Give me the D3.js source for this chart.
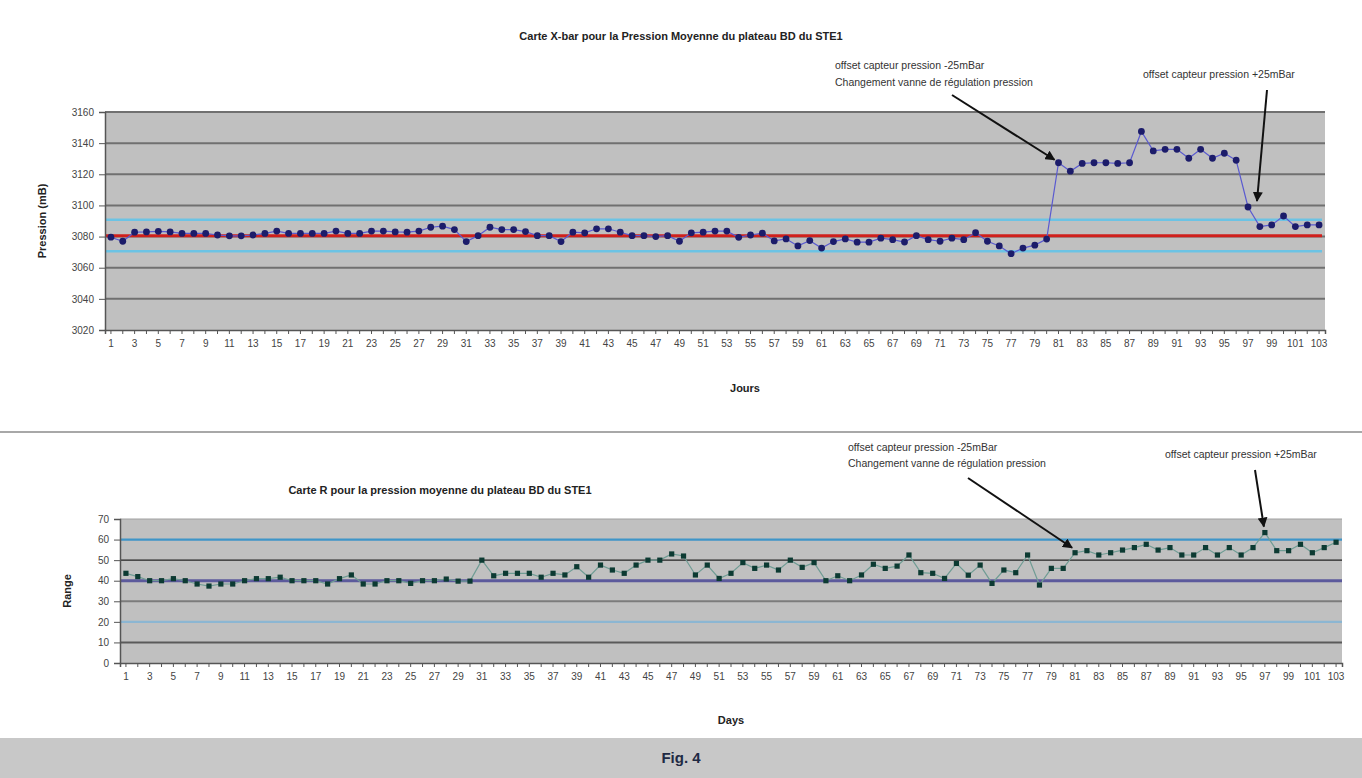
<!DOCTYPE html>
<html lang="fr">
<head>
<meta charset="UTF-8">
<title>Cartes X-bar et R</title>
<script src="https://d3js.org/d3.v7.min.js"></script>
<style>
  body { margin: 0; background: #fff; }
  svg { display: block; font-family: "Liberation Sans", Arial, sans-serif; }
  .tick text { fill: #444; font-size: 10px; }
  .ttl { font-weight: bold; font-size: 11px; fill: #222; }
  .note { font-size: 10.5px; fill: #333; }
</style>
</head>
<body>
<div id="chart"></div>
<script>
// days 1..103
const days = d3.range(1, 104);

// X-bar : pression moyenne (mB)
const pression = [
  3079.6, 3077, 3082.8, 3083, 3083.4, 3083, 3082, 3082, 3082, 3081,
  3080.5, 3080.5, 3081, 3082, 3083.5, 3082, 3082, 3082, 3082, 3083.5,
  3082, 3082, 3083.5, 3083.5, 3083, 3082.8, 3083.5, 3086, 3086.7, 3084.5,
  3076.8, 3080.6, 3086, 3084.5, 3084.5, 3083.2, 3080.6, 3080.6, 3076.8, 3082.8,
  3082.4, 3085, 3085, 3082.8, 3080.6, 3080.6, 3080, 3080.6, 3077, 3082.4,
  3082.8, 3083.5, 3083.5, 3079.5, 3081, 3082.2, 3077.2, 3078.5, 3074, 3077.4,
  3072.6, 3076.8, 3078.5, 3076.4, 3076.4, 3079, 3078, 3076.5, 3080.6, 3078,
  3077, 3079, 3078, 3082.5, 3077, 3074, 3069, 3072.6, 3074.5, 3078.4,
  3127.4, 3122, 3127, 3127.4, 3127.4, 3127, 3127.4, 3147.5, 3135, 3136,
  3136, 3130.3, 3136, 3130.3, 3133.5, 3129, 3099, 3086.4, 3087.5, 3093.2,
  3086.4, 3087.5, 3087.5
];
const xbarCenter = 3080.5;
const xbarUCL = 3090.8;
const xbarLCL = 3070.6;
const xbarTicks = [3020, 3040, 3060, 3080, 3100, 3120, 3140, 3160];

// R : étendue
const range = [
  43.6, 42, 40, 40, 41, 40, 38.4, 37.4, 38.4, 38.4,
  40, 41, 41, 41.7, 40, 40, 40, 38.4, 41, 42.8,
  38.4, 38.4, 40, 40, 38.7, 40, 40, 40.8, 39.8, 39.8,
  50, 42.4, 43.6, 43.6, 43.6, 41.7, 43.6, 42.8, 46.8, 41.7,
  47.6, 45.2, 43.6, 47.6, 50, 50, 53, 52, 42.8, 47.6,
  41.1, 43.6, 48.8, 46, 47.6, 45.2, 50, 46.5, 48.8, 40,
  42.4, 40, 42.8, 48, 46, 47.1, 52.5, 43.9, 43.6, 41.1,
  48.4, 42.7, 47.6, 38.7, 45.2, 43.9, 52.5, 37.9, 46, 46,
  53.6, 54.6, 52.5, 53.6, 54.9, 56.1, 57.7, 54.9, 56.1, 52.5,
  52.5, 56.1, 52.5, 56.1, 52.5, 56.1, 63.4, 54.6, 54.6, 57.7,
  53.6, 56.1, 58.7
];
const rCenter = 40;
const rUCL = 60;
const rLCL = 20;
const rTicks = [0, 10, 20, 30, 40, 50, 60, 70];

const W = 1362, H = 778;
const svg = d3.select("#chart").append("svg").attr("width", W).attr("height", H);

svg.append("defs").append("marker")
  .attr("id", "arr").attr("viewBox", "0 0 10 10").attr("refX", 9).attr("refY", 5)
  .attr("markerWidth", 5).attr("markerHeight", 5).attr("orient", "auto")
  .append("path").attr("d", "M0,0 L10,5 L0,10 z").attr("fill", "#111");

function xAxisLabels(g) {
  g.selectAll(".tick text").attr("dy", "0.9em").attr("fill", "#444");
  g.select(".domain").attr("stroke", "#555").attr("stroke-width", 1.5);
  g.selectAll(".tick line").attr("stroke", "#555");
}

// ---------- X-bar chart ----------
const x1 = d3.scaleBand().domain(days).range([105, 1325]).padding(0);
const y1 = d3.scaleLinear().domain([3020, 3160]).range([330, 112]);
const cx1 = d => x1(d) + x1.bandwidth() / 2;

svg.append("rect").attr("x", 105).attr("y", y1(3160))
  .attr("width", 1220).attr("height", y1(3020) - y1(3160)).attr("fill", "#c0c0c0");

svg.append("g").selectAll("line")
  .data(xbarTicks.filter(t => t > 3020)).enter().append("line")
  .attr("x1", 105).attr("x2", 1325)
  .attr("y1", d => y1(d)).attr("y2", d => y1(d))
  .attr("stroke", "#707070").attr("stroke-width", 2);

[xbarUCL, xbarLCL].forEach(v => {
  svg.append("line").attr("x1", 105).attr("x2", 1322)
    .attr("y1", y1(v)).attr("y2", y1(v))
    .attr("stroke", "#6cc3e4").attr("stroke-width", 2.5);
});
svg.append("line").attr("x1", 105).attr("x2", 1322)
  .attr("y1", y1(xbarCenter)).attr("y2", y1(xbarCenter))
  .attr("stroke", "#d0201c").attr("stroke-width", 3);

svg.append("g").attr("transform", "translate(105,0)")
  .call(d3.axisLeft(y1).tickValues(xbarTicks).tickSize(6).tickPadding(5).tickFormat(d3.format("d")))
  .call(g => {
    g.select(".domain").attr("stroke", "#555").attr("stroke-width", 1.5);
    g.selectAll(".tick line").attr("stroke", "#555");
  });

svg.append("g").attr("transform", `translate(0,${y1(3020)})`)
  .call(d3.axisBottom(x1).tickSize(4).tickPadding(4)
    .tickFormat(d => d % 2 === 1 ? d : ""))
  .call(xAxisLabels);

svg.append("path").datum(days)
  .attr("fill", "none").attr("stroke", "#5a5ad0").attr("stroke-width", 1.2)
  .attr("d", d3.line().x(d => cx1(d)).y((d, i) => y1(pression[i])));

svg.append("g").selectAll("circle").data(days).enter().append("circle")
  .attr("cx", d => cx1(d)).attr("cy", (d, i) => y1(pression[i]))
  .attr("r", 3.4).attr("fill", "#1c1c6a");

svg.append("text").attr("class", "ttl").attr("x", 681).attr("y", 40)
  .attr("text-anchor", "middle").text("Carte X-bar pour la Pression Moyenne du plateau BD du STE1");
svg.append("text").attr("class", "ttl").attr("x", 745).attr("y", 392)
  .attr("text-anchor", "middle").text("Jours");
svg.append("text").attr("class", "ttl")
  .attr("transform", `translate(46,${(y1(3020) + y1(3160)) / 2}) rotate(-90)`)
  .attr("text-anchor", "middle").text("Pression (mB)");

svg.append("text").attr("class", "note").attr("x", 835).attr("y", 69).text("offset capteur pression -25mBar");
svg.append("text").attr("class", "note").attr("x", 835).attr("y", 86).text("Changement vanne de régulation pression");
svg.append("text").attr("class", "note").attr("x", 1143).attr("y", 78).text("offset capteur pression +25mBar");

svg.append("line").attr("x1", 952).attr("y1", 95)
  .attr("x2", cx1(81) - 4).attr("y2", y1(pression[80]) - 3)
  .attr("stroke", "#111").attr("stroke-width", 2).attr("marker-end", "url(#arr)");
svg.append("line").attr("x1", 1267).attr("y1", 90)
  .attr("x2", cx1(97) + 9).attr("y2", y1(pression[96]) - 6)
  .attr("stroke", "#111").attr("stroke-width", 2).attr("marker-end", "url(#arr)");

// separator
svg.append("line").attr("x1", 0).attr("x2", W).attr("y1", 432).attr("y2", 432)
  .attr("stroke", "#a8a8a8").attr("stroke-width", 2);

// ---------- R chart ----------
const x2 = d3.scaleBand().domain(days).range([120, 1342]).padding(0);
const y2 = d3.scaleLinear().domain([0, 70]).range([663, 519]);
const cx2 = d => x2(d) + x2.bandwidth() / 2;

svg.append("rect").attr("x", 120).attr("y", y2(70))
  .attr("width", 1222).attr("height", y2(0) - y2(70)).attr("fill", "#c0c0c0");

const rGrid = [
  { v: 10, c: "#5a5a5a", w: 2 },
  { v: 30, c: "#7c7c7c", w: 2 },
  { v: 50, c: "#222222", w: 1.3 },
  { v: 70, c: "#a0a0a0", w: 1 }
];
svg.append("g").selectAll("line").data(rGrid).enter().append("line")
  .attr("x1", 120).attr("x2", 1342)
  .attr("y1", d => y2(d.v)).attr("y2", d => y2(d.v))
  .attr("stroke", d => d.c).attr("stroke-width", d => d.w);

svg.append("line").attr("x1", 120).attr("x2", 1342)
  .attr("y1", y2(rUCL)).attr("y2", y2(rUCL)).attr("stroke", "#3f95c8").attr("stroke-width", 2.2);
svg.append("line").attr("x1", 120).attr("x2", 1342)
  .attr("y1", y2(rLCL)).attr("y2", y2(rLCL)).attr("stroke", "#8cb6d2").attr("stroke-width", 2.2);
svg.append("line").attr("x1", 120).attr("x2", 1342)
  .attr("y1", y2(rCenter)).attr("y2", y2(rCenter)).attr("stroke", "#5c5a9c").attr("stroke-width", 3);

svg.append("g").attr("transform", "translate(120,0)")
  .call(d3.axisLeft(y2).tickValues(rTicks).tickSize(6).tickPadding(5))
  .call(g => {
    g.select(".domain").attr("stroke", "#555").attr("stroke-width", 1.5);
    g.selectAll(".tick line").attr("stroke", "#555");
  });

svg.append("g").attr("transform", `translate(0,${y2(0)})`)
  .call(d3.axisBottom(x2).tickSize(4).tickPadding(4)
    .tickFormat(d => d % 2 === 1 ? d : ""))
  .call(xAxisLabels);

svg.append("path").datum(days)
  .attr("fill", "none").attr("stroke", "#6f9c94").attr("stroke-width", 1.2)
  .attr("d", d3.line().x(d => cx2(d)).y((d, i) => y2(range[i])));

svg.append("g").selectAll("rect").data(days).enter().append("rect")
  .attr("x", d => cx2(d) - 2.6).attr("y", (d, i) => y2(range[i]) - 2.6)
  .attr("width", 5.2).attr("height", 5.2).attr("fill", "#0c3a32");

svg.append("text").attr("class", "ttl").attr("x", 440).attr("y", 494)
  .attr("text-anchor", "middle").text("Carte R pour la pression moyenne du plateau BD du STE1");
svg.append("text").attr("class", "ttl").attr("x", 731).attr("y", 724)
  .attr("text-anchor", "middle").attr("font-size", "10px").text("Days");
svg.append("text").attr("class", "ttl").attr("font-size", "10px")
  .attr("transform", `translate(71,${(y2(0) + y2(70)) / 2}) rotate(-90)`)
  .attr("text-anchor", "middle").text("Range");

svg.append("text").attr("class", "note").attr("x", 848).attr("y", 451).text("offset capteur pression -25mBar");
svg.append("text").attr("class", "note").attr("x", 848).attr("y", 467).text("Changement vanne de régulation pression");
svg.append("text").attr("class", "note").attr("x", 1165).attr("y", 458).text("offset capteur pression +25mBar");

svg.append("line").attr("x1", 968).attr("y1", 478)
  .attr("x2", cx2(81) - 3).attr("y2", y2(range[80]) - 5)
  .attr("stroke", "#111").attr("stroke-width", 2).attr("marker-end", "url(#arr)");
svg.append("line").attr("x1", 1255).attr("y1", 470)
  .attr("x2", cx2(97) - 1).attr("y2", y2(range[96]) - 6)
  .attr("stroke", "#111").attr("stroke-width", 2).attr("marker-end", "url(#arr)");

// caption band
svg.append("rect").attr("x", 0).attr("y", 738).attr("width", W).attr("height", 40).attr("fill", "#c8c8c8");
svg.append("text").attr("x", W / 2).attr("y", 763).attr("text-anchor", "middle")
  .attr("font-size", "15px").attr("font-weight", "bold").attr("fill", "#1f2a44")
  .text("Fig. 4");
</script>
</body>
</html>
